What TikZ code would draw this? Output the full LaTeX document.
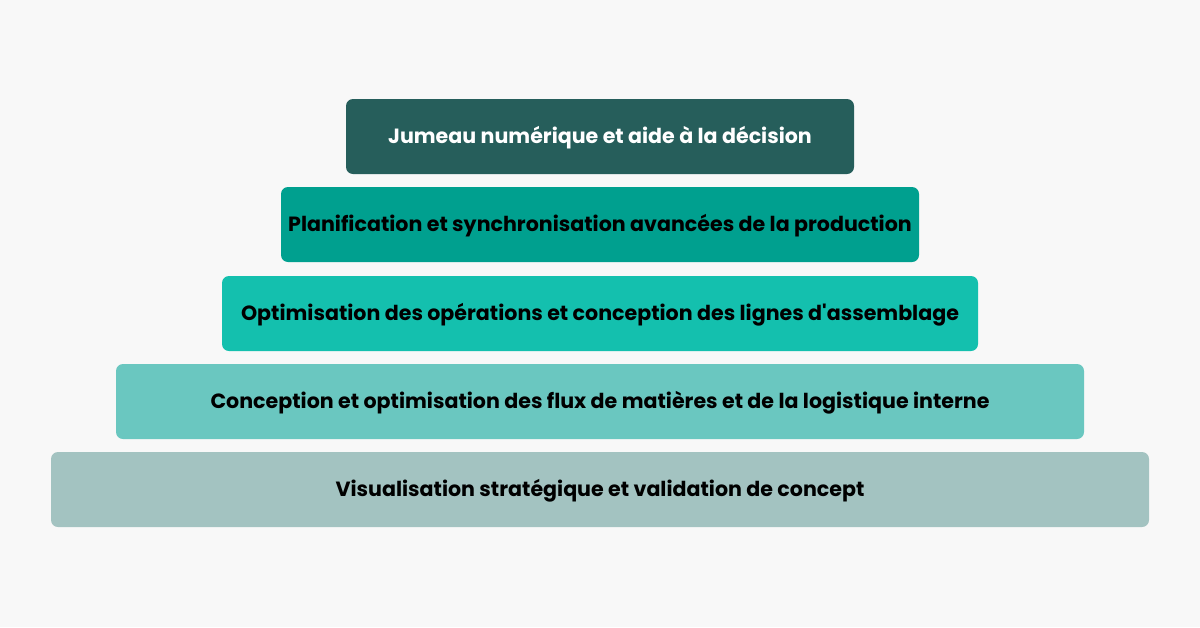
\documentclass[tikz,border=0pt]{standalone}
\usepackage{fontspec}
\setmainfont{Poppins}[Ligatures=TeXOff]
\definecolor{bg}{HTML}{F8F8F8}
\definecolor{cA}{HTML}{265E5B}
\definecolor{cB}{HTML}{00A08F}
\definecolor{cC}{HTML}{14C0AE}
\definecolor{cD}{HTML}{6AC7C0}
\definecolor{cE}{HTML}{A3C3C1}
\begin{document}
\begin{tikzpicture}[x=1pt,y=-1pt,
  tier/.style={rounded corners=7pt, inner sep=0pt, font=\fontsize{20.6}{22}\selectfont\bfseries}]
\fill[bg] (0,0) rectangle (1200,627);
\useasboundingbox (0,0) rectangle (1200,627);
\fill[cA, tier] (346,99) rectangle (854,174);
\fill[cB, tier] (281,187) rectangle (919,262);
\fill[cC, tier] (222,276) rectangle (978,351);
\fill[cD, tier] (116,364) rectangle (1084,439);
\fill[cE, tier] (51,452) rectangle (1149,527);
\node[tier, text=white] (t1) at (600,137.5) {Jumeau numérique et aide à la décision};
\node[tier, text=black] (t2) at (600,225.5) {Planification et synchronisation avancées de la production};
\node[tier, text=black] (t3) at (600,314.5) {Optimisation des opérations et conception des lignes d'assemblage};
\node[tier, text=black] (t4) at (600,402.5) {Conception et optimisation des flux de matières et de la logistique interne};
\node[tier, text=black] (t5) at (600,490.5) {Visualisation stratégique et validation de concept};
\end{tikzpicture}
\end{document}
